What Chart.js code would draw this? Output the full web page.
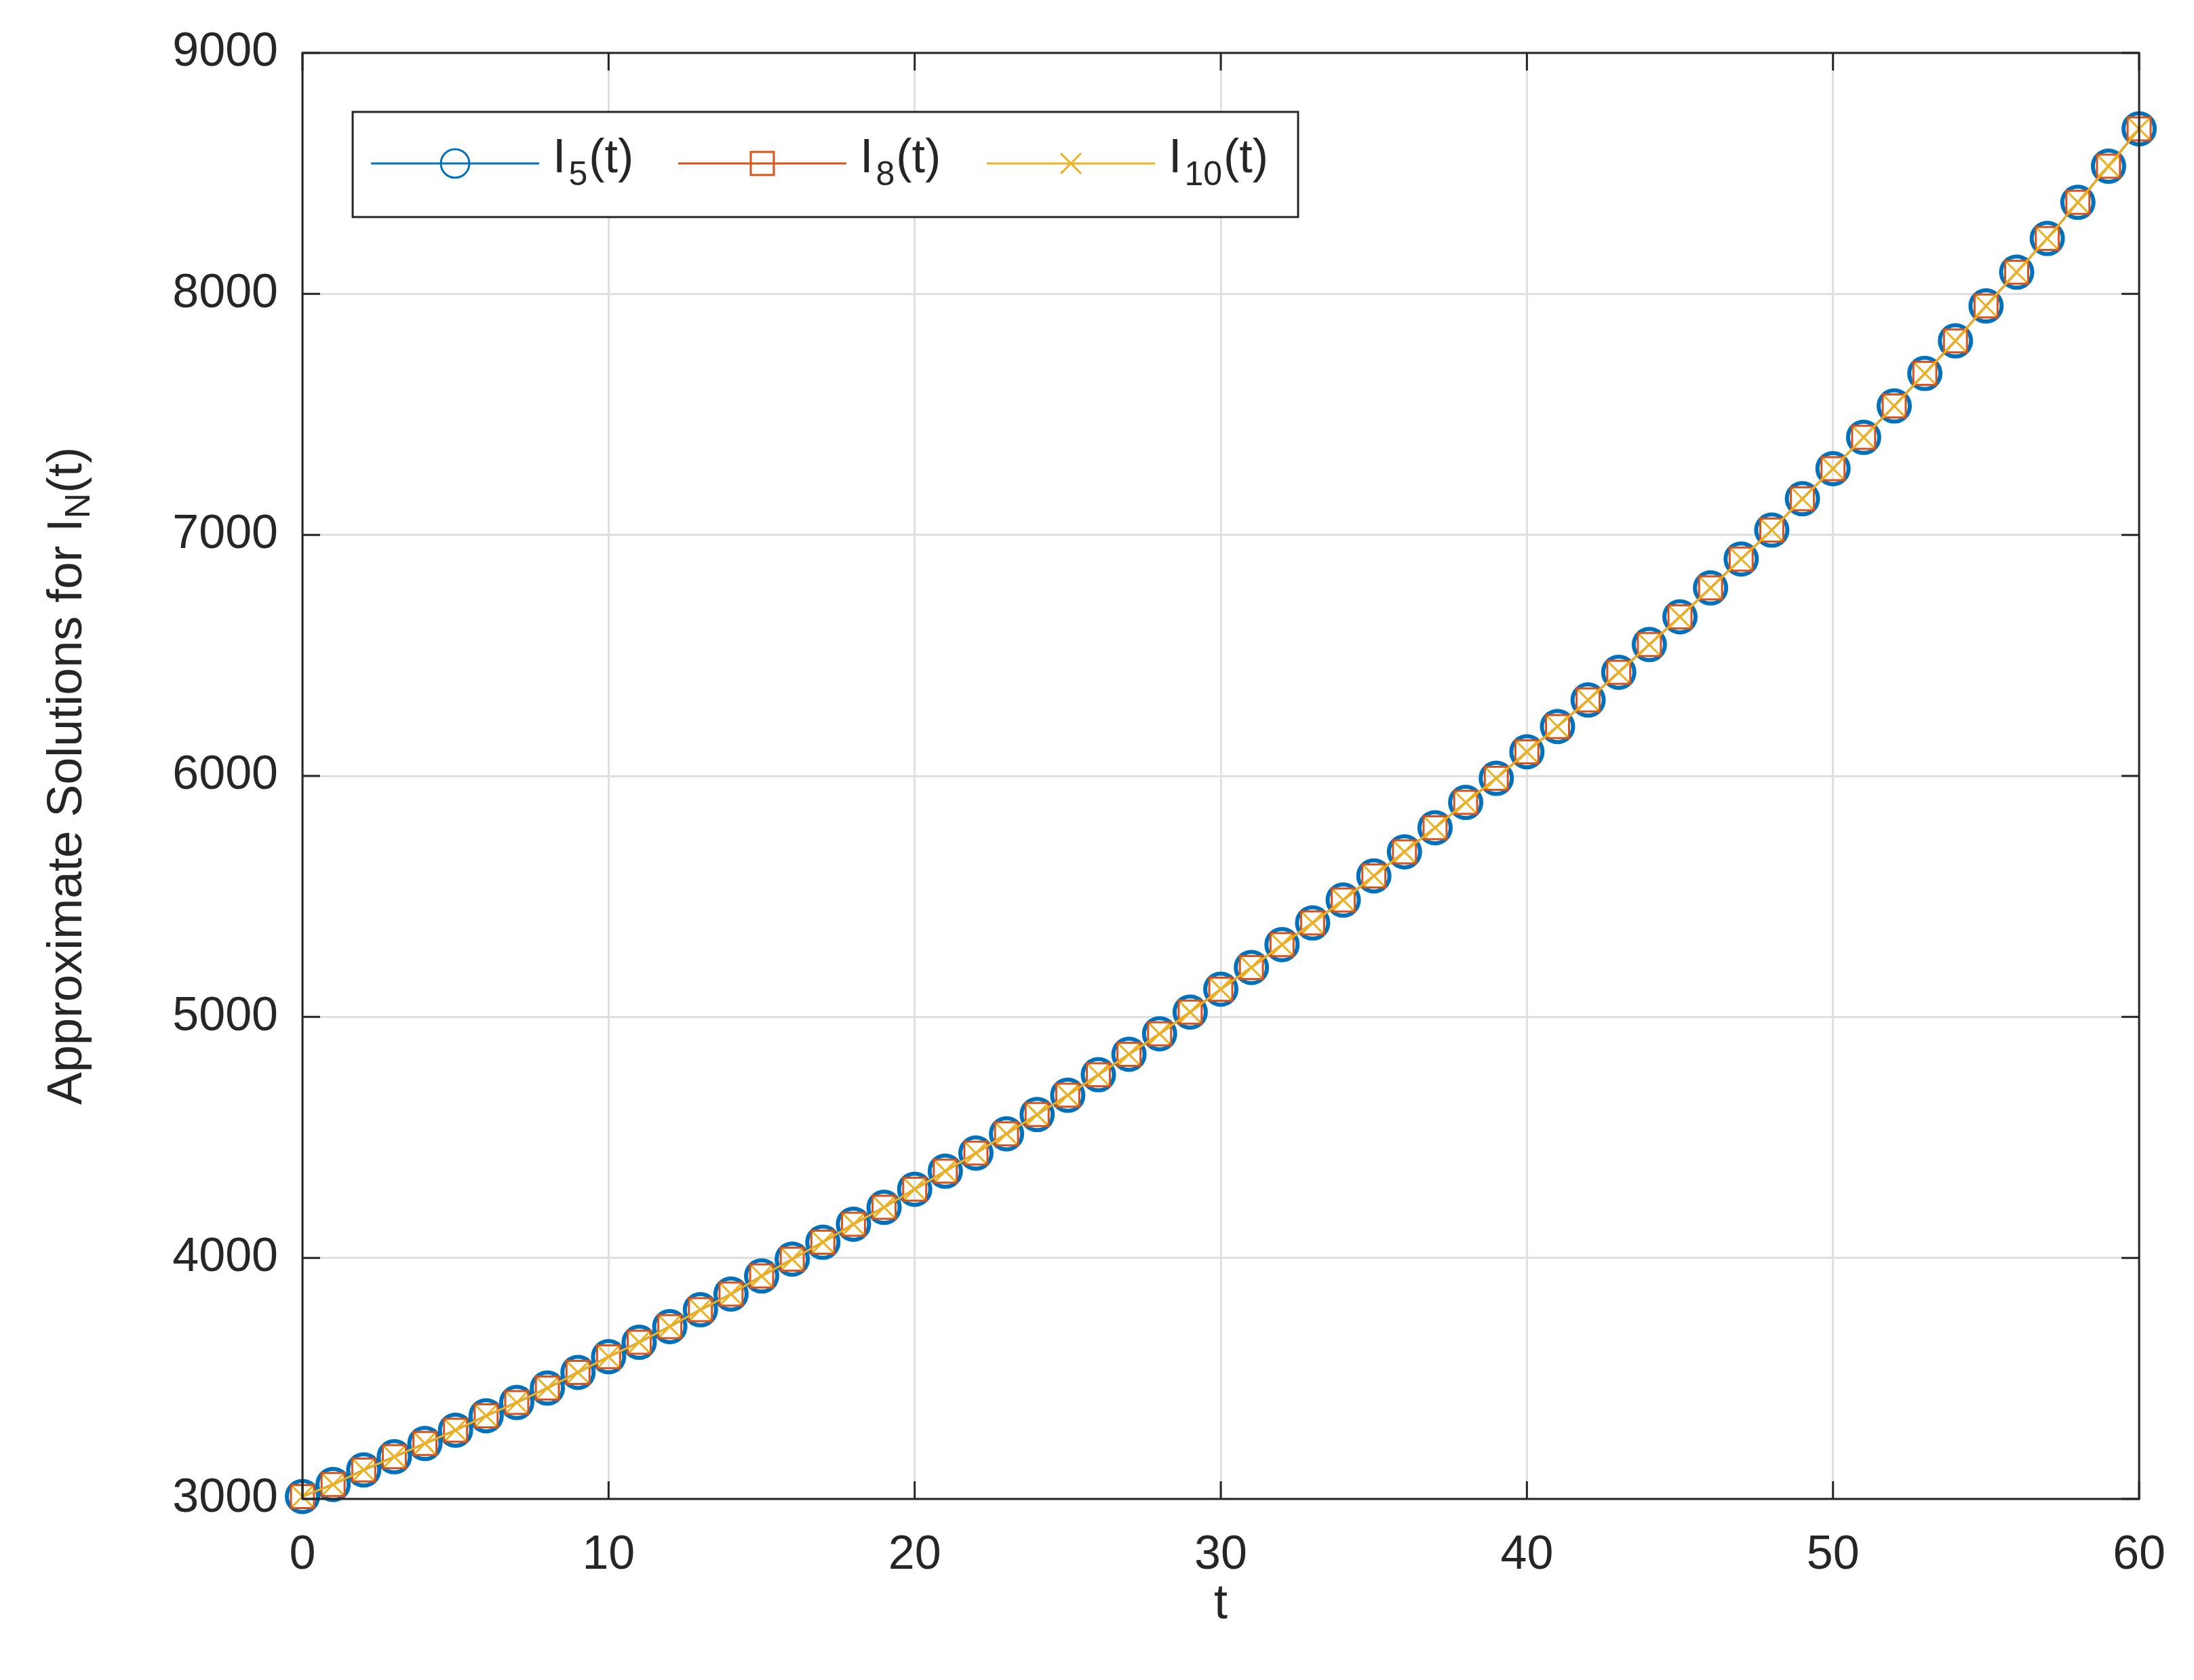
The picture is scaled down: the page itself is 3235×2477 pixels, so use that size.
<!DOCTYPE html>
<html>
<head>
<meta charset="utf-8">
<script src="https://cdn.jsdelivr.net/npm/chart.js@4.4.1/dist/chart.umd.min.js"></script>
<style>
  html, body { margin: 0; padding: 0; background: #fff; }
  #wrap { width: 3235px; height: 2477px; }
</style>
</head>
<body>
<div id="wrap"><canvas id="grafic"></canvas></div>
<script>
// ---------- Dades ----------
const temps = [];
for (let t = 0; t <= 60; t++) temps.push(t);

const i5 = [3010, 3060, 3120, 3175, 3230, 3285, 3345, 3400, 3460, 3525,
  3590, 3650, 3715, 3785, 3850, 3925, 3995, 4065, 4140, 4210,
  4285, 4360, 4435, 4515, 4595, 4675, 4760, 4845, 4930, 5020,
  5115, 5205, 5300, 5390, 5485, 5585, 5685, 5785, 5890, 5990,
  6100, 6205, 6315, 6430, 6545, 6660, 6780, 6900, 7020, 7150,
  7275, 7405, 7535, 7670, 7805, 7950, 8090, 8230, 8380, 8530, 8685];
// the three approximations coincide on the picture
const i8 = i5.slice();
const i10 = i5.slice();

const xTicks = [0, 10, 20, 30, 40, 50, 60];
const yTicks = [3000, 4000, 5000, 6000, 7000, 8000, 9000];

const FONT = "Liberation Sans, Arial, sans-serif";
const blau = "#0072BD", taronja = "#D95319", groc = "#EDB120";

const punts = arr => arr.map((v, i) => ({ x: temps[i], y: v }));

// ---------- Plugin: marc, ticks interiors, títols i llegenda ----------
const extres = {
  id: "extres",
  afterDraw(chart) {
    const ctx = chart.ctx;
    const a = chart.chartArea;
    const sx = chart.scales.x, sy = chart.scales.y;
    ctx.save();
    ctx.strokeStyle = "#262626";
    ctx.lineWidth = 3;
    ctx.strokeRect(a.left, a.top, a.right - a.left, a.bottom - a.top);
    ctx.beginPath();
    xTicks.forEach(v => {
      const px = sx.getPixelForValue(v);
      ctx.moveTo(px, a.bottom); ctx.lineTo(px, a.bottom - 26);
      ctx.moveTo(px, a.top); ctx.lineTo(px, a.top + 26);
    });
    yTicks.forEach(v => {
      const py = sy.getPixelForValue(v);
      ctx.moveTo(a.left, py); ctx.lineTo(a.left + 26, py);
      ctx.moveTo(a.right, py); ctx.lineTo(a.right - 26, py);
    });
    ctx.stroke();

    // títols
    ctx.fillStyle = "#262626";
    ctx.font = "72px " + FONT;
    ctx.textAlign = "center";
    ctx.textBaseline = "middle";
    ctx.fillText("t", (a.left + a.right) / 2, 2366);

    ctx.save();
    ctx.translate(100, (a.top + a.bottom) / 2);
    ctx.rotate(-Math.PI / 2);
    const base = "Approximate Solutions for I";
    ctx.font = "72px " + FONT;
    const w1 = ctx.measureText(base).width;
    ctx.font = "52px " + FONT;
    const w2 = ctx.measureText("N").width;
    ctx.font = "72px " + FONT;
    const w3 = ctx.measureText("(t)").width;
    let x0 = -(w1 + w2 + w3) / 2;
    ctx.textAlign = "left";
    ctx.fillText(base, x0, 0);
    ctx.font = "52px " + FONT;
    ctx.fillText("N", x0 + w1, 18);
    ctx.font = "72px " + FONT;
    ctx.fillText("(t)", x0 + w1 + w2, 0);
    ctx.restore();

    // llegenda
    ctx.fillStyle = "#fff";
    ctx.fillRect(520, 165, 1394, 155);
    ctx.lineWidth = 3;
    ctx.strokeStyle = "#262626";
    ctx.strokeRect(520, 165, 1394, 155);
    const entrades = [
      { x: 547, col: blau, sub: "5", estil: "circle" },
      { x: 1000, col: taronja, sub: "8", estil: "rect" },
      { x: 1455, col: groc, sub: "10", estil: "cross" }
    ];
    const cy = 241;
    entrades.forEach(e => {
      ctx.strokeStyle = e.col;
      ctx.lineWidth = 3;
      ctx.beginPath();
      ctx.moveTo(e.x, cy); ctx.lineTo(e.x + 248, cy);
      ctx.stroke();
      const mx = e.x + 124;
      ctx.beginPath();
      if (e.estil === "circle") {
        ctx.arc(mx, cy, 21, 0, Math.PI * 2);
      } else if (e.estil === "rect") {
        ctx.rect(mx - 17, cy - 17, 34, 34);
      } else {
        ctx.moveTo(mx - 15, cy - 15); ctx.lineTo(mx + 15, cy + 15);
        ctx.moveTo(mx - 15, cy + 15); ctx.lineTo(mx + 15, cy - 15);
      }
      ctx.stroke();
      ctx.fillStyle = "#262626";
      ctx.textAlign = "left";
      ctx.font = "70px " + FONT;
      const tx = e.x + 268;
      ctx.fillText("I", tx, cy - 6);
      const wi = ctx.measureText("I").width;
      ctx.font = "50px " + FONT;
      ctx.fillText(e.sub, tx + wi + 4, cy + 18);
      const ws = ctx.measureText(e.sub).width;
      ctx.font = "70px " + FONT;
      ctx.fillText("(t)", tx + wi + 6 + ws, cy - 6);
    });
    ctx.restore();
  }
};

// ---------- Gràfic ----------
new Chart(document.getElementById("grafic"), {
  type: "line",
  data: {
    datasets: [
      { label: "I5(t)", data: punts(i5), order: 3, clip: false, borderColor: blau, backgroundColor: "rgba(0,0,0,0)",
        borderWidth: 3, pointStyle: "circle", pointRadius: 23, pointBorderWidth: 6,
        pointBorderColor: blau, pointBackgroundColor: "rgba(0,0,0,0)" },
      { label: "I8(t)", data: punts(i8), order: 2, clip: false, borderColor: taronja, backgroundColor: "rgba(0,0,0,0)",
        borderWidth: 3, pointStyle: "rect", pointRadius: 24, pointBorderWidth: 3,
        pointBorderColor: taronja, pointBackgroundColor: "rgba(0,0,0,0)" },
      { label: "I10(t)", data: punts(i10), order: 1, clip: false, borderColor: groc, backgroundColor: "rgba(0,0,0,0)",
        borderWidth: 3, pointStyle: "crossRot", pointRadius: 21, pointBorderWidth: 3,
        pointBorderColor: groc, pointBackgroundColor: "rgba(0,0,0,0)" }
    ]
  },
  options: {
    responsive: true,
    maintainAspectRatio: false,
    animation: false,
    devicePixelRatio: 1,
    layout: { padding: { top: 70, right: 77, left: 0, bottom: 0 } },
    plugins: { legend: { display: false }, tooltip: { enabled: false } },
    scales: {
      x: {
        type: "linear", min: 0, max: 60,
        afterFit: s => { s.height = 267; },
        afterBuildTicks: s => { s.ticks = xTicks.map(v => ({ value: v })); },
        grid: { color: "#dfdfdf", lineWidth: 3, drawTicks: false },
        border: { display: false },
        ticks: { padding: 42, color: "#262626", font: { family: FONT, size: 70 },
          callback: v => String(v) }
      },
      y: {
        type: "linear", min: 3000, max: 9000,
        afterFit: s => { s.width = 446; },
        afterBuildTicks: s => { s.ticks = yTicks.map(v => ({ value: v })); },
        grid: { color: "#dfdfdf", lineWidth: 3, drawTicks: false },
        border: { display: false },
        ticks: { padding: 36, color: "#262626", font: { family: FONT, size: 70 },
          callback: v => String(v) }
      }
    }
  },
  plugins: [extres]
});
</script>
</body>
</html>
